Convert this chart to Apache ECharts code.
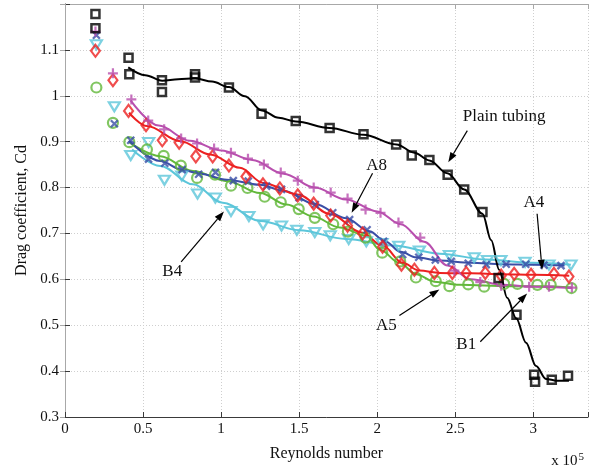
<!DOCTYPE html>
<html>
<head>
<meta charset="utf-8">
<script src="https://cdn.jsdelivr.net/npm/echarts@6/dist/echarts.min.js"></script>
<style>
html,body{margin:0;padding:0;background:#fff}
#chart{width:598px;height:471px}
</style>
</head>
<body>
<div id="chart"></div>
<script>
// Reynolds number values are given in units of 1e5.

// Plain tubing (measured points and fitted curve)
const plainRe = [0.195,0.195,0.407,0.412,0.621,0.621,0.833,0.833,1.05,1.259,1.478,1.695,1.912,2.121,2.221,2.334,2.451,2.557,2.674,2.777,2.892,3.005,3.011,3.118,3.222];
const plainCd = [1.178,1.147,1.083,1.047,1.034,1.008,1.047,1.040,1.018,0.961,0.945,0.930,0.916,0.894,0.870,0.860,0.828,0.796,0.747,0.603,0.523,0.392,0.377,0.381,0.390];
const plainFitRe = [0.405,0.514,0.623,0.725,0.833,0.942,1.05,1.153,1.261,1.369,1.478,1.695,1.912,2.123,2.238,2.334,2.449,2.557,2.674,2.73,2.781,2.832,2.89,2.953,3.017,3.081,3.151,3.228];
const plainFitCd = [1.062,1.045,1.033,1.036,1.038,1.031,1.019,0.999,0.968,0.952,0.944,0.930,0.915,0.894,0.876,0.859,0.831,0.796,0.743,0.685,0.621,0.560,0.515,0.462,0.411,0.383,0.379,0.379];

// A4
const a4Re = [0.195,0.307,0.407,0.519,0.623,0.731,0.838,0.946,1.050,1.159,1.268,1.376,1.491,1.593,1.702,1.810,1.906,2.034,2.155,2.238,2.366,2.481,2.570,2.692,2.794,2.877,2.985,3.132,3.228];
const a4Cd = [1.098,1.034,0.967,0.936,0.903,0.898,0.868,0.868,0.848,0.824,0.807,0.798,0.783,0.765,0.739,0.717,0.700,0.671,0.632,0.621,0.614,0.614,0.614,0.614,0.608,0.612,0.610,0.612,0.606];
const a4FitRe = [0.41,0.525,0.74,0.93,1.12,1.27,1.49,1.7,1.9,2.036,2.162,2.27,2.4,2.6,2.8,3.0,3.23];
const a4FitCd = [0.963,0.934,0.901,0.872,0.843,0.810,0.785,0.742,0.702,0.673,0.636,0.619,0.614,0.613,0.611,0.610,0.608];

// A5
const a5Re = [0.201,0.307,0.412,0.525,0.632,0.742,0.846,0.961,1.063,1.169,1.279,1.382,1.497,1.600,1.718,1.812,1.925,2.032,2.147,2.248,2.375,2.462,2.583,2.685,2.813,2.898,3.026,3.111,3.244];
const a5Cd = [1.018,0.941,0.899,0.883,0.869,0.848,0.821,0.828,0.804,0.799,0.780,0.768,0.753,0.734,0.720,0.704,0.691,0.658,0.639,0.604,0.596,0.585,0.589,0.584,0.590,0.590,0.588,0.588,0.581];
const a5FitRe = [0.41,0.61,0.82,1.04,1.25,1.42,1.59,1.76,1.93,2.015,2.142,2.249,2.366,2.526,2.845,3.05,3.25];
const a5FitCd = [0.899,0.868,0.836,0.814,0.788,0.763,0.737,0.713,0.695,0.665,0.636,0.611,0.595,0.588,0.585,0.585,0.582];

// A8
const a8Re = [0.201,0.316,0.421,0.535,0.639,0.750,0.856,0.964,1.078,1.174,1.291,1.387,1.499,1.603,1.715,1.823,1.935,2.040,2.163,2.266,2.372,2.474,2.583,2.698,2.826,2.951,3.068,3.177];
const a8Cd = [1.132,0.939,0.903,0.862,0.853,0.839,0.829,0.833,0.815,0.814,0.803,0.796,0.778,0.763,0.745,0.730,0.708,0.683,0.654,0.648,0.642,0.639,0.635,0.632,0.633,0.633,0.631,0.630];
const a8FitRe = [0.41,0.61,0.75,0.865,1.036,1.248,1.4,1.6,1.8,1.95,2.05,2.15,2.25,2.4,2.6,2.8,3.0,3.2];
const a8FitCd = [0.902,0.858,0.839,0.830,0.817,0.806,0.793,0.764,0.733,0.705,0.683,0.660,0.648,0.641,0.636,0.633,0.632,0.630];

// B1
const b1Re = [0.195,0.307,0.425,0.533,0.635,0.744,0.846,0.955,1.063,1.172,1.274,1.382,1.491,1.593,1.702,1.810,1.925,2.021,2.136,2.276,2.494,2.66,2.794,2.973,3.100,3.247];
const b1Cd = [1.140,1.049,0.992,0.946,0.927,0.907,0.896,0.885,0.876,0.863,0.850,0.833,0.815,0.800,0.789,0.776,0.752,0.745,0.724,0.691,0.619,0.594,0.586,0.584,0.584,0.582];
const b1FitRe = [0.42,0.6,0.8,1.0,1.2,1.4,1.6,1.8,2.0,2.15,2.3,2.45,2.6,2.8,3.0,3.25];
const b1FitCd = [0.990,0.935,0.902,0.881,0.860,0.830,0.800,0.774,0.748,0.720,0.682,0.630,0.600,0.588,0.584,0.581];

// B4
const b4Re = [0.201,0.316,0.421,0.536,0.637,0.748,0.849,0.963,1.063,1.178,1.269,1.387,1.485,1.600,1.699,1.817,1.930,2.031,2.138,2.270,2.462,2.621,2.706,2.792,2.947,3.100,3.241];
const b4Cd = [1.111,0.976,0.870,0.898,0.816,0.825,0.786,0.777,0.748,0.737,0.719,0.716,0.707,0.702,0.695,0.687,0.682,0.678,0.672,0.662,0.652,0.647,0.641,0.641,0.637,0.631,0.631];
const b4FitRe = [0.43,0.61,0.82,1.01,1.25,1.5,1.8,2.1,2.4,2.7,3.0,3.24];
const b4FitCd = [0.883,0.847,0.807,0.767,0.727,0.707,0.688,0.674,0.656,0.643,0.636,0.632];

// Axis ticks
const xTicks = [0,0.5,1,1.5,2,2.5,3];
const yTicks = [0.3,0.4,0.5,0.6,0.7,0.8,0.9,1,1.1];

// Callout labels: [text, label position, arrow tail, arrow head] in data units
const callouts = [
  ['Plain tubing', [2.813,0.955], [2.577,0.924], [2.455,0.855]],
  ['A8', [1.996,0.848], [1.970,0.831], [1.836,0.745]],
  ['A4', [3.004,0.767], [3.024,0.743], [3.056,0.621]],
  ['A5', [2.059,0.499], [2.142,0.521], [2.398,0.578]],
  ['B1', [2.570,0.457], [2.660,0.464], [2.960,0.569]],
  ['B4', [0.687,0.617], [0.744,0.638], [1.018,0.748]]
];

const SERIF = '"Liberation Serif","Times New Roman",serif';
const PLUS = 'path://M5,0L5,10M0,5L10,5';
const CROSS = 'path://M0,0L10,10M10,0L0,10';

const zip = (xs, ys) => xs.map((x, i) => [x, ys[i]]);

function pointSeries(name, xs, ys, color, symbol, size, rotate, bw) {
  return {
    name, type: 'scatter', data: zip(xs, ys), symbol, symbolSize: size,
    symbolRotate: rotate || 0, z: 4,
    itemStyle: { color: 'rgba(0,0,0,0)', borderColor: color, borderWidth: bw || 2 },
    emphasis: { disabled: true }, silent: true
  };
}
function fitSeries(name, xs, ys, color) {
  return {
    name: name + ' fit', type: 'line', data: zip(xs, ys), showSymbol: false,
    smooth: 0.35, smoothMonotone: 'x', z: 3,
    lineStyle: { color, width: 2 }, emphasis: { disabled: true }, silent: true
  };
}

const C = {
  plain: '#000000', a4: '#ec2020', a5: '#62b83a', a8: '#3a4ea6', b1: '#b84fae', b4: '#5cc6da'
};

const chart = echarts.init(document.getElementById('chart'), null, { renderer: 'canvas' });

const fmt = v => {
  const r = Math.round(v * 10) / 10;
  return Math.abs(v - r) < 1e-6 ? String(r) : '';
};

chart.setOption({
  animation: false,
  backgroundColor: '#fff',
  grid: { left: 65, right: 10, top: 4, bottom: 54 },
  xAxis: [{
    type: 'value', min: 0, max: 3.35, interval: 0.5,
    axisLine: { lineStyle: { color: '#3a3a3a', width: 1 } },
    axisTick: { inside: true, length: 5, lineStyle: { color: '#3a3a3a' } },
    axisLabel: {
      fontFamily: SERIF, fontSize: 15, color: '#111', margin: 5,
      formatter: v => xTicks.some(t => Math.abs(t - v) < 1e-6) ? fmt(v) : ''
    },
    splitLine: { show: true, lineStyle: { type: [1, 2], color: '#cfcfcf' } },
    name: 'Reynolds number', nameLocation: 'middle', nameGap: 29,
    nameTextStyle: { fontFamily: SERIF, fontSize: 16, color: '#111' }
  }, {
    type: 'value', position: 'top', min: 0, max: 3.35, interval: 0.5,
    axisLine: { show: true, lineStyle: { color: '#a8a8a8' } },
    axisTick: { inside: true, length: 5, lineStyle: { color: '#a8a8a8' } },
    axisLabel: { show: false }, splitLine: { show: false }
  }],
  yAxis: [{
    type: 'value', min: 0.3, max: 1.2, interval: 0.1,
    axisLine: { show: true, lineStyle: { color: '#3a3a3a', width: 1 } },
    axisTick: { show: true, inside: true, length: 5, lineStyle: { color: '#3a3a3a' } },
    axisLabel: {
      fontFamily: SERIF, fontSize: 15, color: '#111', margin: 6,
      formatter: v => yTicks.some(t => Math.abs(t - v) < 1e-6) ? fmt(v) : ''
    },
    splitLine: { show: true, lineStyle: { type: [1, 2], color: '#cfcfcf' } },
    name: 'Drag coefficient, Cd', nameLocation: 'middle', nameGap: 33,
    nameTextStyle: { fontFamily: SERIF, fontSize: 16, color: '#111' }
  }, {
    type: 'value', position: 'right', min: 0.3, max: 1.2, interval: 0.1,
    axisLine: { show: true, lineStyle: { color: '#a8a8a8' } },
    axisTick: { show: true, inside: true, length: 5, lineStyle: { color: '#a8a8a8' } },
    axisLabel: { show: false }, splitLine: { show: false }
  }],
  series: [
    fitSeries('B4', b4FitRe, b4FitCd, C.b4),
    fitSeries('A5', a5FitRe, a5FitCd, C.a5),
    fitSeries('A8', a8FitRe, a8FitCd, C.a8),
    fitSeries('A4', a4FitRe, a4FitCd, C.a4),
    fitSeries('B1', b1FitRe, b1FitCd, C.b1),
    fitSeries('Plain tubing', plainFitRe, plainFitCd, C.plain),
    pointSeries('B4', b4Re, b4Cd, C.b4, 'triangle', [11, 9], 180, 2.2),
    pointSeries('A5', a5Re, a5Cd, C.a5, 'circle', 10, 0, 2.2),
    pointSeries('A8', a8Re, a8Cd, C.a8, CROSS, 7, 0, 2.3),
    pointSeries('A4', a4Re, a4Cd, C.a4, 'diamond', [9, 12], 0, 2.2),
    pointSeries('B1', b1Re, b1Cd, C.b1, PLUS, 10, 0, 2.2),
    pointSeries('Plain tubing', plainRe, plainCd, C.plain, 'rect', 8, 0, 2.5)
  ]
});

// Callout labels with arrows, placed through the axis scales
const toPx = p => chart.convertToPixel({ gridIndex: 0 }, p);
const graphics = [];
callouts.forEach(([text, pos, tail, head]) => {
  const [tx, ty] = toPx(pos);
  const [x1, y1] = toPx(tail);
  const [x2, y2] = toPx(head);
  const ang = Math.atan2(y2 - y1, x2 - x1);
  const L = 10, W = 3.5;
  const bx = x2 - L * Math.cos(ang), by = y2 - L * Math.sin(ang);
  graphics.push({
    type: 'text', x: tx, y: ty, z: 10,
    style: { text, font: '17px ' + SERIF, fill: '#111', align: 'center', verticalAlign: 'middle' }
  });
  graphics.push({
    type: 'line', z: 10,
    shape: { x1, y1, x2: bx, y2: by },
    style: { stroke: '#000', lineWidth: 1.2 }
  });
  graphics.push({
    type: 'polygon', z: 10,
    shape: { points: [[x2, y2], [bx - W * Math.sin(ang), by + W * Math.cos(ang)], [bx + W * Math.sin(ang), by - W * Math.cos(ang)]] },
    style: { fill: '#000' }
  });
});
// Axis multiplier for the Reynolds number scale
graphics.push({
  type: 'text', right: 14, top: 452, z: 10,
  style: {
    text: 'x 10{sup|5}', font: '15px ' + SERIF, fill: '#111',
    rich: { sup: { fontFamily: SERIF, fontSize: 11, verticalAlign: 'top', padding: [0, 0, 8, 1] } }
  }
});
chart.setOption({ graphic: graphics });
</script>
</body>
</html>
